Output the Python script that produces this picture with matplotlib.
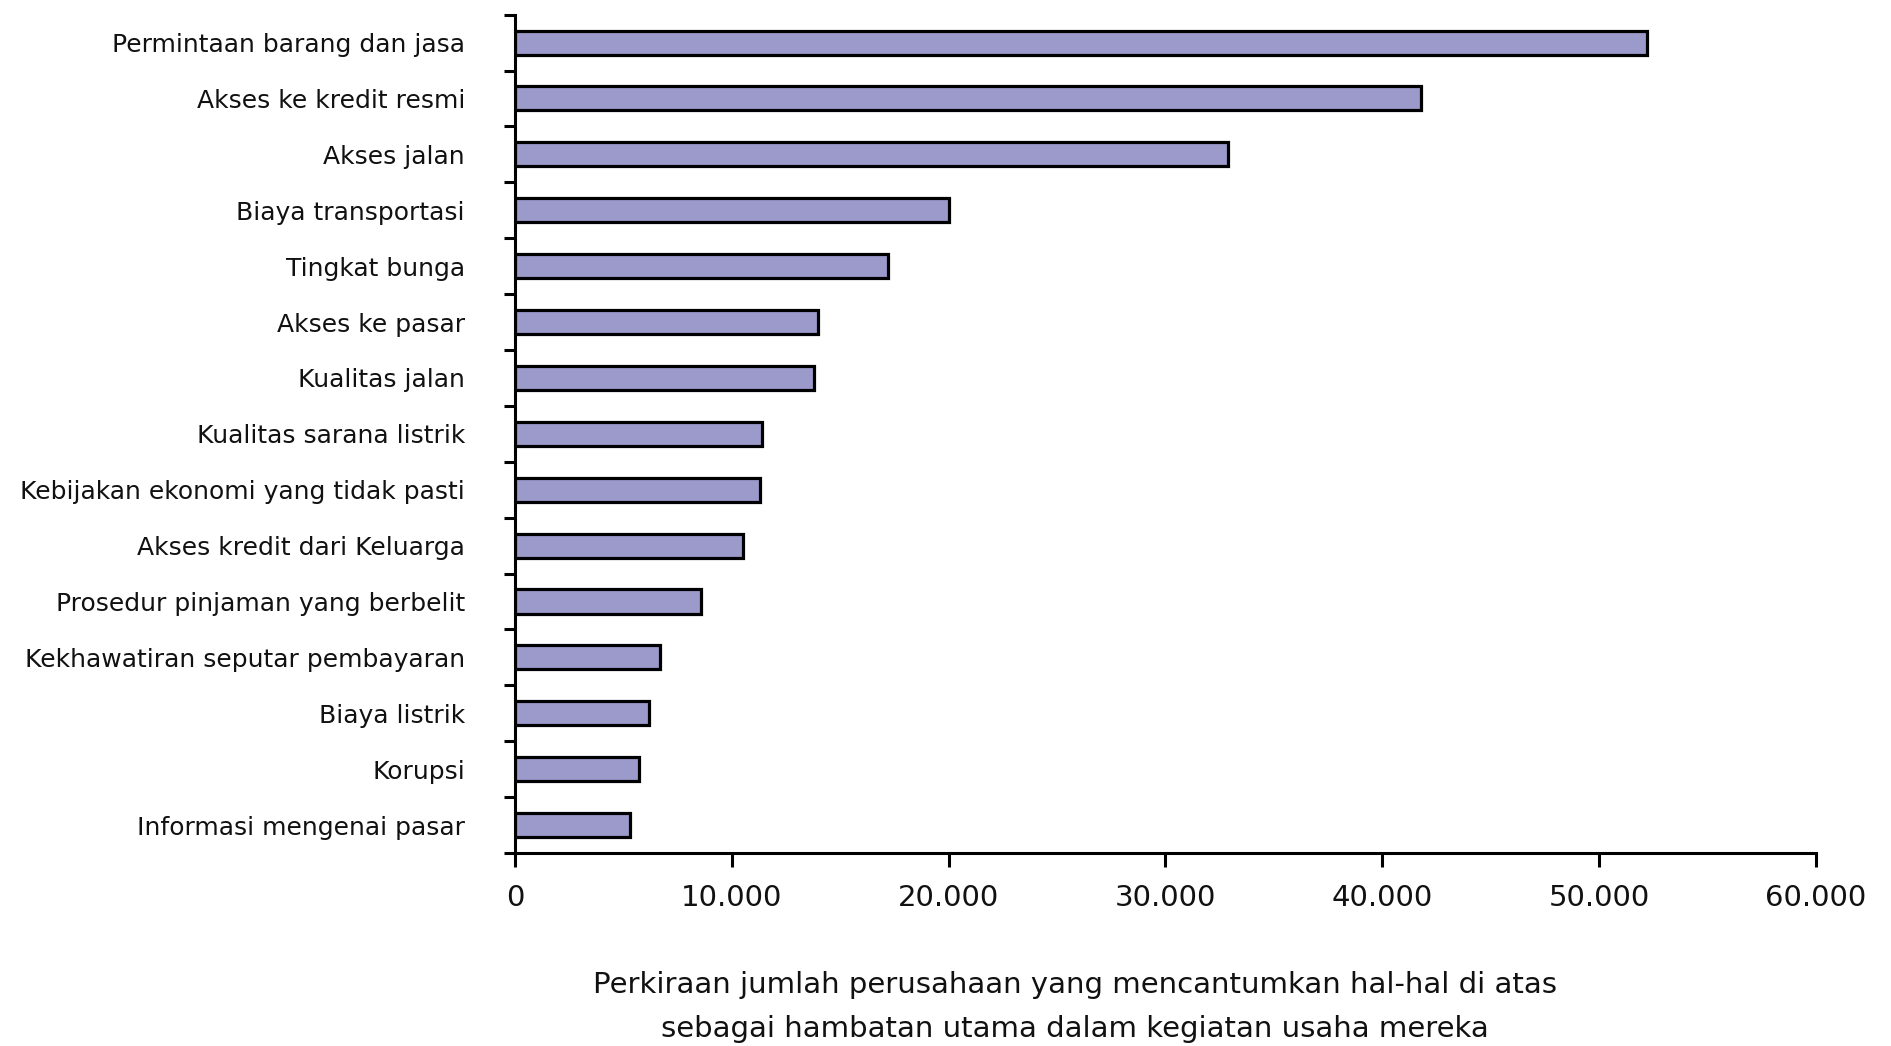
import numpy as np
import matplotlib
matplotlib.use("Agg")
import matplotlib.pyplot as plt
from matplotlib.ticker import FuncFormatter, FixedLocator

# data (top to bottom, as in the picture)
labels = [
    "Permintaan barang dan jasa",
    "Akses ke kredit resmi",
    "Akses jalan",
    "Biaya transportasi",
    "Tingkat bunga",
    "Akses ke pasar",
    "Kualitas jalan",
    "Kualitas sarana listrik",
    "Kebijakan ekonomi yang tidak pasti",
    "Akses kredit dari Keluarga",
    "Prosedur pinjaman yang berbelit",
    "Kekhawatiran seputar pembayaran",
    "Biaya listrik",
    "Korupsi",
    "Informasi mengenai pasar",
]
values = [52200, 41800, 32900, 20000, 17200, 14000, 13800, 11400,
          11300, 10500, 8600, 6700, 6200, 5700, 5300]
x_ticks = [0, 10000, 20000, 30000, 40000, 50000, 60000]

bar_color = "#9c9acb"

fig = plt.figure(figsize=(18.91, 10.46), dpi=100)
ax = fig.add_axes([0.2723, 0.1845, 0.688, 0.8015])

n = len(labels)
ypos = np.arange(n)
ax.barh(ypos, values, height=0.43, color=bar_color, edgecolor="black",
        linewidth=2.3)

ax.set_ylim(n - 0.5, -0.5)
ax.set_xlim(0, 60000)

# y ticks sit between categories, labels at the bar centres
ax.yaxis.set_major_locator(FixedLocator(np.arange(-0.5, n, 1.0)))
ax.yaxis.set_major_formatter(FuncFormatter(lambda v, p: ""))
ax.yaxis.set_minor_locator(FixedLocator(ypos))
ax.set_yticklabels(labels, minor=True)
ax.tick_params(axis="y", which="major", direction="out", length=8, width=2.2)
ax.tick_params(axis="y", which="minor", length=0, pad=36, labelsize=18,
               labelcolor="#111111")

ax.set_xticks(x_ticks)
ax.xaxis.set_major_formatter(
    FuncFormatter(lambda v, p: f"{int(v):,}".replace(",", ".")))
ax.tick_params(axis="x", direction="out", length=10, width=2.2, pad=12,
               labelsize=21, labelcolor="#111111")

for s in ["top", "right"]:
    ax.spines[s].set_visible(False)
for s in ["left", "bottom"]:
    ax.spines[s].set_linewidth(2.2)

fig.text(1075 / 1891, 1 - 985 / 1046,
         "Perkiraan jumlah perusahaan yang mencantumkan hal-hal di atas",
         ha="center", va="center", fontsize=21, color="#111111")
fig.text(1075 / 1891, 1 - 1029 / 1046,
         "sebagai hambatan utama dalam kegiatan usaha mereka",
         ha="center", va="center", fontsize=21, color="#111111")

fig.savefig("out.png", dpi=100)
